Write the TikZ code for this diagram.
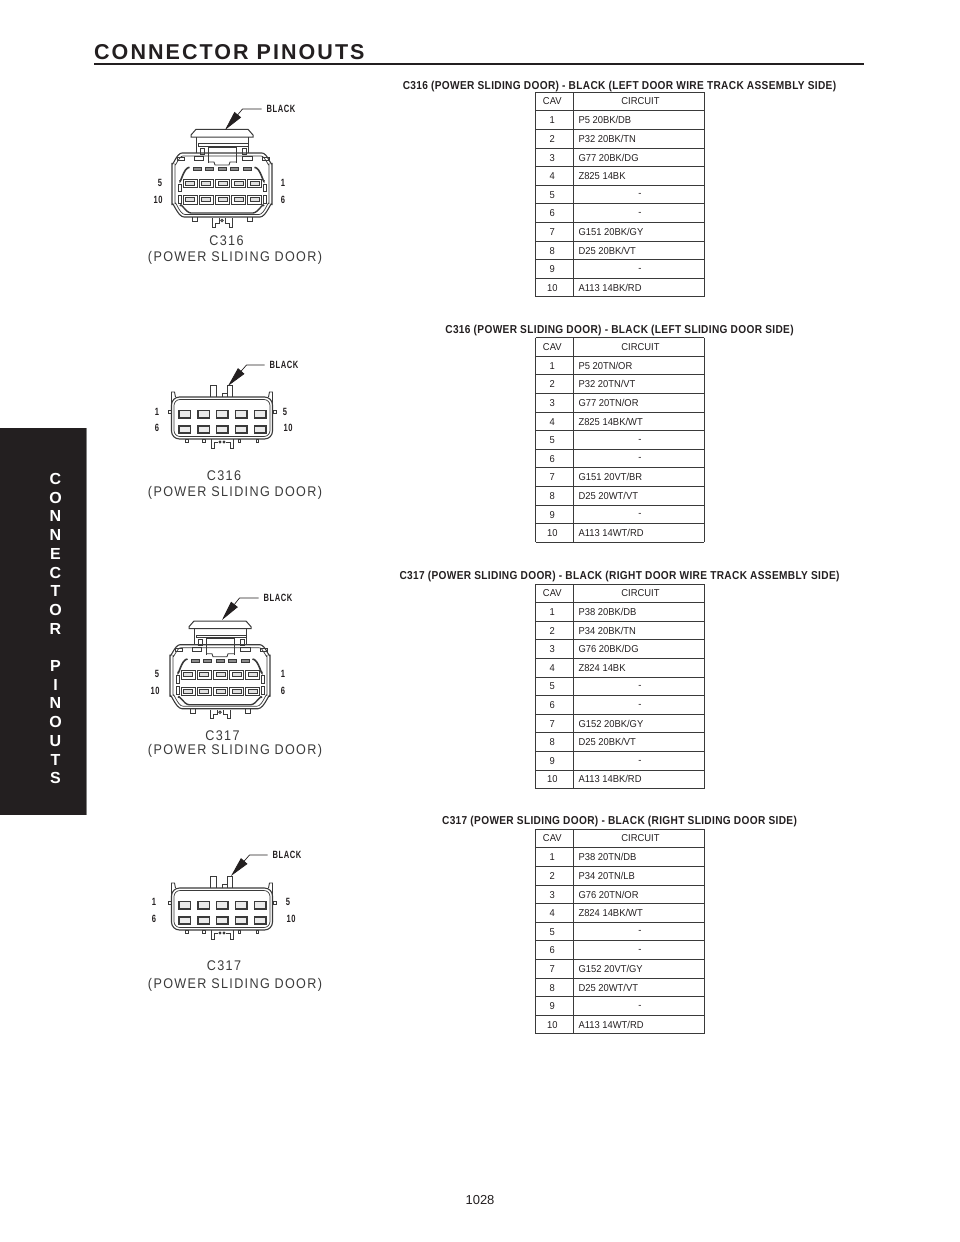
\documentclass[tikz,border=0pt]{standalone}
\usepackage{fontspec}
\usepackage{tikz}
\usetikzlibrary{arrows.meta}
\usetikzlibrary{positioning}
\setmainfont{Liberation Sans}
\newfontfamily\narrowfont[FakeStretch=0.94]{Liberation Sans}
\newfontfamily\labelfont[FakeStretch=0.72,LetterSpace=5]{Liberation Sans}
\newfontfamily\titlefont[FakeStretch=0.88,LetterSpace=3]{Liberation Sans}
\newfontfamily\capfont[FakeStretch=0.9,LetterSpace=9.6]{Liberation Sans}
\newfontfamily\headfont[LetterSpace=9.5]{Liberation Sans}
\definecolor{inkdark}{HTML}{231F20}
\definecolor{inkline}{HTML}{3A3A3A}
\tikzset{
    wirecell/.style={inner sep=0pt, text=inkdark, text height=7.2pt, text depth=0pt, font=\narrowfont\fontsize{10}{12}\selectfont},
    tableline/.style={draw=inkline, line width=0.9pt},
    doortitle/.style={inner sep=0pt, text=inkdark, font=\titlefont\bfseries\fontsize{11.5}{13}\selectfont},
    pinlabel/.style={inner sep=0pt, text=inkdark, font=\labelfont\bfseries\fontsize{10.5}{12}\selectfont},
    colourlabel/.style={inner sep=0pt, text=inkdark, font=\labelfont\bfseries\fontsize{10.5}{12}\selectfont},
    doorcaption/.style={inner sep=0pt, text=inkline, font=\capfont\fontsize{14}{16}\selectfont},
    leaderline/.style={draw=inkdark, line width=0.7pt, -{Stealth[length=20pt,width=8.5pt,inset=0pt]}},
    housing/.style={draw=inkline, line width=0.9pt},
    sideletter/.style={inner sep=0pt, text=white, font=\bfseries\fontsize{16}{18}\selectfont},
    % track assembly side connector, origin in the middle of the body
    trackhousing/.pic={
        \draw[housing, line width=1pt, fill=white] (-26,-55.7) -- (26,-55.7) -- (31,-50) -- (31,-48) -- (-31,-48) -- (-31,-50) -- cycle;
        \draw[housing] (-26,-48) -- (-26,-32) (26,-48) -- (26,-32);
        \draw[housing] (-24,-41.7) rectangle (26,-39);
        \draw[housing] (-14,-22) -- (-14,-38) -- (14,-38) -- (14,-22);
        \draw[housing] (-22,-37) rectangle (-18,-31) (20.5,-37) rectangle (24.5,-31);
        \draw[housing] (-28,-29) rectangle (-18.7,-25) (20,-29) rectangle (30,-25);
        \draw[housing] (-14,-23) -- (-8,-23) -- (-7,-20) -- (7,-20) -- (8,-23) -- (14,-23);
        \draw[housing, line width=1.1pt] (-50,-22) to[out=-90,in=180] (-40,-32) -- (40,-32) to[out=0,in=-90] (50,-22) -- (50,20) to[out=90,in=0] (38,32) -- (-38,32) to[out=180,in=90] (-50,20) -- cycle;
        \draw[housing, line width=0.7pt] (-47,-21) to[out=-90,in=180] (-39,-29) -- (39,-29) to[out=0,in=-90] (47,-21) -- (47,19) to[out=90,in=0] (37,29.5) -- (-37,29.5) to[out=180,in=90] (-47,19) -- cycle;
        \draw[housing] (-45,-28) rectangle (-38,-25) (40,-28) rectangle (47,-25);
        \foreach \slotx in {-25,-12.7,0,12.7,25} {
            \draw[housing, fill=black!45] (\slotx-4,-17.5) rectangle (\slotx+4,-14.5);
        }
        \foreach \slotx in {-32,-16,0.5,16.5,32.5} {
            \foreach \sloty in {-1.8,14.8} {
                \draw[housing, line width=1pt] (\slotx-7,\sloty-4.2) rectangle (\slotx+7,\sloty+4.2);
                \draw[housing, fill=black!12] (\slotx-4.5,\sloty-2) rectangle (\slotx+4.5,\sloty+2);
            }
        }
        \draw[housing] (-43.7,-1) rectangle (-40.3,6.7) (-43.7,10) rectangle (-40.3,18);
        \draw[housing] (41.3,-1) rectangle (44.7,6.7) (41.3,10) rectangle (44.7,18);
        \draw[inkline, line width=1.6pt] (-32.5,-17.7) to[out=180,in=-90] (-42,-5);
        \draw[inkline, line width=1.6pt] (32.5,-17.7) to[out=0,in=-90] (42,-5);
        \draw[inkline, line width=1.4pt] (-42,21) to[out=90,in=180] (-31,28) -- (31,28) to[out=0,in=90] (42,21);
        \draw[housing] (-30,32) -- (-30,36.5) -- (-25,36.5) -- (-25,32) (25,32) -- (25,36.5) -- (30,36.5) -- (30,32);
        \draw[housing] (-10,33) -- (-10,42) -- (-7,42) -- (-7,38) -- (-3,38) -- (-3,33);
        \draw[housing] (10,33) -- (10,42) -- (7,42) -- (7,38) -- (3,38) -- (3,33);
        \draw[housing] (0,35.5) circle (1.3);
    },
    % sliding door side connector, origin in the middle of the body
    slidehousing/.pic={
        \draw[housing] (-12,-21) -- (-12,-33) -- (-6,-33) -- (-6,-21);
        \draw[housing] (5.3,-21) -- (5.3,-33) -- (10.3,-33) -- (10.3,-21);
        \draw[housing] (0.7,-21) -- (0.7,-25) -- (5.3,-25);
        \draw[housing] (-50.5,-14) -- (-50.5,-26) -- (-47.5,-26) -- (-46.5,-21);
        \draw[housing] (50.5,-14) -- (50.5,-26) -- (47.5,-26) -- (46.5,-21);
        \draw[housing, line width=1.1pt, rounded corners=8pt] (-50.5,-21) rectangle (50.5,21);
        \draw[housing, line width=0.7pt, rounded corners=6pt] (-48,-18.5) rectangle (48,18.5);
        \foreach \slotx in {-37.3,-18.3,0.3,19.2,38.3} {
            \foreach \sloty in {-3.9,11.5} {
                \draw[housing, line width=1.5pt, fill=black!8] (\slotx-5.8,\sloty-3.7) rectangle (\slotx+5.8,\sloty+3.7);
            }
        }
        \draw[housing] (-54,-8) rectangle (-51,-4.5) (51,-8) rectangle (54.5,-4.5);
        \foreach \tabx in {-35,-18,17.3,35.3} {
            \draw[housing] (\tabx-1.3,21.5) rectangle (\tabx+1.3,24.5);
        }
        \draw[housing] (-11,21) -- (-11,30) -- (-8,30) -- (-8,24) -- (-4,24);
        \draw[housing] (11,21) -- (11,30) -- (8,30) -- (8,24) -- (4,24);
        \draw[housing] (-2,24) circle (1) (2,24) circle (1);
    },
}
% table: top edge, then the rows that have a wire
\newcommand{\pinouttable}[3]{
    \foreach \rowno in {0,...,11} {
        \pgfmathsetmacro{\liney}{#2+\rowno*18.6}
        \draw[tableline] (535.7,\liney) -- (704.3,\liney);
    }
    \draw[tableline] (535.7,#2) -- (535.7,#2+204.6);
    \draw[tableline] (573.3,#2) -- (573.3,#2+204.6);
    \draw[tableline] (704.3,#2) -- (704.3,#2+204.6);
    \node[wirecell] (#1cav) at (552.3,#2+8.8) {CAV};
    \node[wirecell] (#1circuit) at (640.5,#2+8.8) {CIRCUIT};
    \foreach \rowno/\wire in {#3} {
        \pgfmathsetmacro{\texty}{#2+\rowno*18.6+9.3}
        \node[wirecell, anchor=west] (#1w\rowno) at (578.3,\texty) {\wire};
    }
    \foreach \rowno in {1,...,10} {
        \pgfmathsetmacro{\texty}{#2+\rowno*18.6+9.3}
        \node[wirecell] (#1n\rowno) at (552.3,\texty) {\rowno};
    }
    \foreach \rowno in {5,6,9} {
        \pgfmathsetmacro{\texty}{#2+\rowno*18.6+9.3}
        \node[wirecell, yshift=1.3pt] (#1d\rowno) at (640,\texty) {-};
    }
}
\begin{document}
\begin{tikzpicture}[x=1pt, y=-1pt]
\useasboundingbox (0,0) rectangle (960,1242);
% page head
\node[inner sep=0pt, anchor=west, text=inkdark, font=\headfont\bfseries\fontsize{21.5}{24}\selectfont] (pagehead) at (94,52) {CONNECTOR PINOUTS};
\draw[inkdark, line width=2.6pt] (94,64) -- (864,64);
\node[inner sep=0pt, text=inkdark, font=\fontsize{13}{15}\selectfont] (pageno) at (480,1200) {1028};
% side tab
\fill[inkdark] (0,428) rectangle (86,815);
\draw[black!50, line width=0.6pt] (86,428) -- (86,815);
\foreach \letter [count=\i from 0] in {C,O,N,N,E,C,T,O,R,,P,I,N,O,U,T,S} {
    \node[sideletter] (side\i) at (55.5,479+\i*18.7) {\letter};
}

% first connector
\pic at (222,185) {trackhousing};
\node[colourlabel] (blackone) at (281,109) {BLACK};
\coordinate (tipone) at (225,130);
\draw[leaderline] (blackone.west) ++(-5,0) -- ++(-19,0) -- (tipone);
\node[pinlabel] at (160,183) {5};
\node[pinlabel] at (158,200) {10};
\node[pinlabel] at (283,183) {1};
\node[pinlabel] at (283,200) {6};
\node[doorcaption] at (226.5,241) {C316};
\node[doorcaption] at (235,258) {(POWER SLIDING DOOR)};

% second connector
\pic at (222,418) {slidehousing};
\node[colourlabel] (blacktwo) at (284,365) {BLACK};
\coordinate (tiptwo) at (228,386);
\draw[leaderline] (blacktwo.west) ++(-5,0) -- ++(-18,0) -- (tiptwo);
\node[pinlabel] at (157,412) {1};
\node[pinlabel] at (157,428) {6};
\node[pinlabel] at (285,412) {5};
\node[pinlabel] at (288,428) {10};
\node[doorcaption] at (224,476) {C316};
\node[doorcaption] at (235,493) {(POWER SLIDING DOOR)};

% third connector
\pic at (220,676.7) {trackhousing};
\node[colourlabel] (blackthree) at (278,598) {BLACK};
\coordinate (tipthree) at (222,620);
\draw[leaderline] (blackthree.west) ++(-5,0) -- ++(-19,0) -- (tipthree);
\node[pinlabel] at (157,674) {5};
\node[pinlabel] at (155,691) {10};
\node[pinlabel] at (283,674) {1};
\node[pinlabel] at (283,691) {6};
\node[doorcaption] at (222.5,735.7) {C317};
\node[doorcaption] at (235,751) {(POWER SLIDING DOOR)};

% fourth connector
\pic at (222,909) {slidehousing};
\node[colourlabel] (blackfour) at (287,855) {BLACK};
\coordinate (tipfour) at (231,876);
\draw[leaderline] (blackfour.west) ++(-5,0) -- ++(-18,0) -- (tipfour);
\node[pinlabel] at (154,902) {1};
\node[pinlabel] at (154,919) {6};
\node[pinlabel] at (288,902) {5};
\node[pinlabel] at (291,919) {10};
\node[doorcaption] at (224,966) {C317};
\node[doorcaption] at (235,985) {(POWER SLIDING DOOR)};

% tables
\node[doortitle] (titleone) at (619.5,86.5) {C316 (POWER SLIDING DOOR) - BLACK (LEFT DOOR WIRE TRACK ASSEMBLY SIDE)};
\pinouttable{one}{92.3}{1/{P5 20BK/DB},2/{P32 20BK/TN},3/{G77 20BK/DG},4/{Z825 14BK},7/{G151 20BK/GY},8/{D25 20BK/VT},10/{A113 14BK/RD}}
\node[doortitle] (titletwo) at (619.5,330.5) {C316 (POWER SLIDING DOOR) - BLACK (LEFT SLIDING DOOR SIDE)};
\pinouttable{two}{337.7}{1/{P5 20TN/OR},2/{P32 20TN/VT},3/{G77 20TN/OR},4/{Z825 14BK/WT},7/{G151 20VT/BR},8/{D25 20WT/VT},10/{A113 14WT/RD}}
\node[doortitle] (titlethree) at (619.5,576.5) {C317 (POWER SLIDING DOOR) - BLACK (RIGHT DOOR WIRE TRACK ASSEMBLY SIDE)};
\pinouttable{three}{584}{1/{P38 20BK/DB},2/{P34 20BK/TN},3/{G76 20BK/DG},4/{Z824 14BK},7/{G152 20BK/GY},8/{D25 20BK/VT},10/{A113 14BK/RD}}
\node[doortitle] (titlefour) at (619.5,821.5) {C317 (POWER SLIDING DOOR) - BLACK (RIGHT SLIDING DOOR SIDE)};
\pinouttable{four}{829.3}{1/{P38 20TN/DB},2/{P34 20TN/LB},3/{G76 20TN/OR},4/{Z824 14BK/WT},7/{G152 20VT/GY},8/{D25 20WT/VT},10/{A113 14WT/RD}}
\end{tikzpicture}
\end{document}
